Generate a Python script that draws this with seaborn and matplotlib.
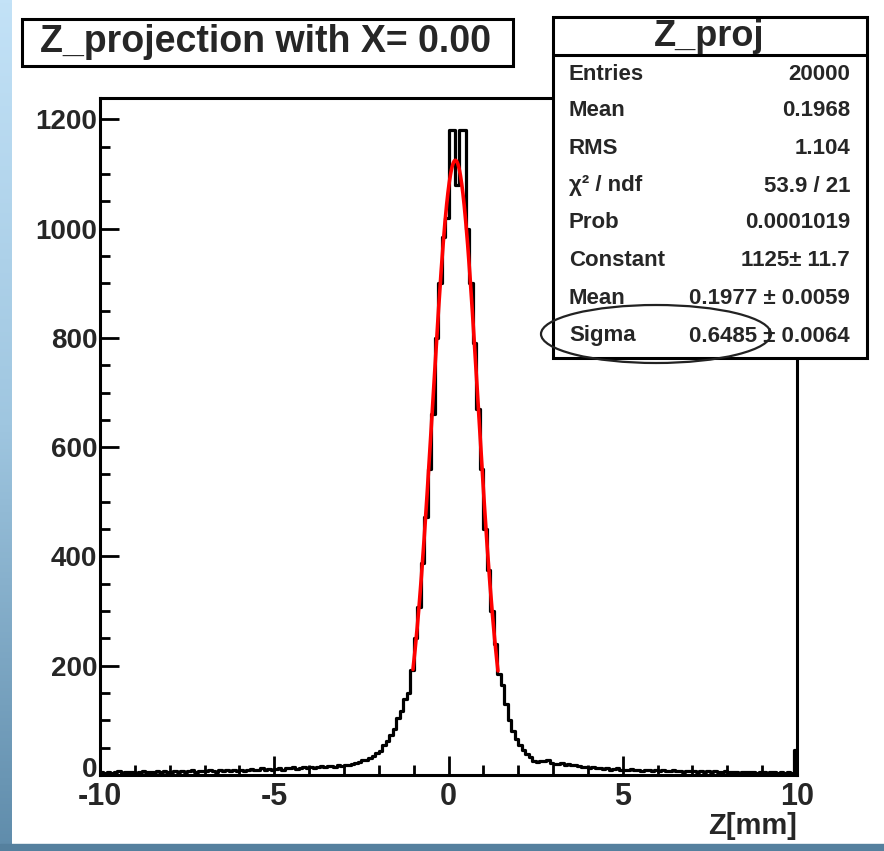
import numpy as np
import pandas as pd
import matplotlib
matplotlib.use("Agg")
import matplotlib.pyplot as plt
import matplotlib.transforms as mtransforms
from matplotlib.patches import Rectangle, Ellipse
import seaborn as sns

# ---- data -------------------------------------------------------------
# 200 bins of 0.1 mm from -10 to 10 (counts per bin)
bin_edges = [round(-10.0 + 0.1 * i, 2) for i in range(201)]

counts_left_tail = [
    5, 3, 6, 4, 5, 7, 4, 6, 5, 6,          # -10 .. -9
    4, 6, 7, 5, 6, 5, 7, 6, 8, 5,          # -9 .. -8
    6, 7, 5, 8, 6, 7, 9, 6, 7, 8,          # -8 .. -7
    7, 9, 8, 6, 9, 8, 10, 7, 9, 8,         # -7 .. -6
    9, 8, 10, 11, 9, 10, 12, 10, 11, 10,   # -6 .. -5
    11, 12, 10, 13, 12, 14, 11, 13, 14, 12,  # -5 .. -4
    14, 13, 15, 16, 14, 17, 16, 15, 18, 17,  # -4 .. -3
    18, 19, 21, 22, 24, 27, 28, 31, 35, 40,  # -3 .. -2
    44, 55, 62, 74, 84, 104, 118, 140, 150, 192,  # -2 .. -1
]
counts_core = [
    250, 307, 388, 472, 560, 660, 800, 900, 985, 1020,   # -1 .. 0
    1180, 1180, 1080, 1180, 1180, 1000, 900, 790, 670, 560,  # 0 .. 1
    450, 375, 300, 240,                                   # 1 .. 1.4
]
counts_right_tail = [
    185, 165, 130, 100, 80, 66,              # 1.4 .. 2.0
    55, 46, 38, 33, 26, 24, 26, 25, 27, 22,  # 2 .. 3
    21, 20, 22, 19, 20, 18, 19, 16, 15, 14,  # 3 .. 4
    13, 14, 12, 13, 11, 12, 10, 11, 12, 10,  # 4 .. 5
    10, 9, 11, 9, 10, 8, 9, 10, 8, 9,        # 5 .. 6
    8, 9, 7, 8, 9, 7, 8, 6, 8, 7,            # 6 .. 7
    7, 6, 8, 6, 7, 5, 7, 6, 5, 7,            # 7 .. 8
    6, 5, 6, 4, 6, 5, 5, 6, 4, 5,            # 8 .. 9
    5, 4, 6, 5, 4, 5, 3, 5, 4, 45,           # 9 .. 10
]
counts = counts_left_tail + counts_core + counts_right_tail

# Gaussian fit result and its range
fit_constant = 1125.0
fit_mean = 0.1977
fit_sigma = 0.6485
fit_range = (-1.02, 1.42)

title_text = "Z_projection with X= 0.00"
stats_title = "Z_proj"
stats_labels = ["Entries", "Mean", "RMS", "\u03c7\u00b2 / ndf", "Prob",
                "Constant", "Mean", "Sigma"]
stats_values = ["20000", "0.1968", "1.104", "53.9 / 21", "0.0001019",
                "1125\u00b1 11.7", "0.1977 \u00b1 0.0059", "0.6485 \u00b1 0.0064"]

x_ticks = [-10, -5, 0, 5, 10]
y_ticks = [0, 200, 400, 600, 800, 1000, 1200]
x_label = "Z[mm]"

# ---- figure -----------------------------------------------------------
W, H = 884, 851
sns.set_theme(style="white")
plt.rcParams["font.family"] = ["Liberation Sans", "DejaVu Sans"]

fig = plt.figure(figsize=(W / 100, H / 100), dpi=100)
fig.patch.set_facecolor("white")


def fx(x):
    return x / W


def fy(y):
    return 1 - y / H


# window decoration: blue gradient on the left edge and a strip at the bottom
deco = fig.add_axes([0, 0, fx(12), 1])
grad = np.linspace(0, 1, 256).reshape(-1, 1)
cmap = matplotlib.colors.LinearSegmentedColormap.from_list(
    "edge", ["#c3e2f7", "#9fc6e0", "#5f8cab"])
deco.imshow(grad, aspect="auto", cmap=cmap, extent=[0, 1, 0, 1], origin="upper")
deco.set_axis_off()
fig.patches.append(Rectangle((0, 0), 1, (H - 844) / H,
                             transform=fig.transFigure, color="#55809e", zorder=0))

# main histogram pad
ax = fig.add_axes([fx(100), fy(775), fx(797) - fx(100), fy(98) - fy(775)])
centers = [(a + b) / 2 for a, b in zip(bin_edges[:-1], bin_edges[1:])]
df = pd.DataFrame({"z": centers, "n": counts})
sns.histplot(data=df, x="z", weights="n", bins=bin_edges, element="step",
             fill=False, color="black", linewidth=2.3, ax=ax)

xf = np.linspace(fit_range[0], fit_range[1], 200)
yf = fit_constant * np.exp(-0.5 * ((xf - fit_mean) / fit_sigma) ** 2)
sns.lineplot(x=xf, y=yf, color="red", linewidth=2.6, ax=ax)

ax.set_xlim(-10, 10)
ax.set_ylim(0, 1239)
ax.set_xticks(x_ticks)
ax.set_xticks(np.arange(-10, 11, 1), minor=True)
ax.set_yticks(y_ticks)
ax.set_yticks(np.arange(0, 1239, 50), minor=True)
ax.set_xticklabels([str(t) for t in x_ticks], fontsize=22, fontweight="bold")
ax.set_yticklabels([str(t) for t in y_ticks], fontsize=20, fontweight="bold")
ax.tick_params(axis="both", which="major", direction="in", length=14, width=2,
               color="black", bottom=True, left=True, top=False, right=False)
ax.tick_params(axis="both", which="minor", direction="in", length=7, width=2,
               color="black", bottom=True, left=True, top=False, right=False)
ax.tick_params(axis="x", pad=5)
ax.tick_params(axis="y", pad=2)
ax.set_xlabel("")
ax.set_ylabel("")
for s in ax.spines.values():
    s.set_color("black")
    s.set_linewidth(2.2)
ax.set_facecolor("white")

# lift the "0" count label a little so it sits just above the "-10"
zero_lab = ax.get_yticklabels()[0]
zero_lab.set_transform(zero_lab.get_transform() +
                       mtransforms.ScaledTranslation(0, 6 / 72, fig.dpi_scale_trans))

fig.text(fx(797), fy(826), x_label, ha="right", va="center", fontsize=21,
         fontweight="bold")

# title box
fig.patches.append(Rectangle((fx(22), fy(66)), fx(513) - fx(22), fy(19) - fy(66),
                             transform=fig.transFigure, facecolor="white",
                             edgecolor="black", linewidth=2.2, zorder=5))
fig.text(fx(266), fy(42), title_text, ha="center", va="center", fontsize=27,
         fontweight="bold", zorder=6)

# statistics box
fig.patches.append(Rectangle((fx(553), fy(358)), fx(867) - fx(553), fy(17) - fy(358),
                             transform=fig.transFigure, facecolor="white",
                             edgecolor="black", linewidth=2.2, zorder=5))
fig.lines.append(matplotlib.lines.Line2D([fx(553), fx(867)], [fy(55), fy(55)],
                                         transform=fig.transFigure, color="black",
                                         linewidth=2.2, zorder=6))
fig.text(fx(709), fy(37), stats_title, ha="center", va="center", fontsize=26,
         fontweight="bold", zorder=6)
row_y = [74, 111, 149, 186, 223, 261, 299, 336]
for lab, val, yy in zip(stats_labels, stats_values, row_y):
    fig.text(fx(569), fy(yy), lab, ha="left", va="center", fontsize=16,
             fontweight="bold", zorder=6)
    fig.text(fx(850), fy(yy), val, ha="right", va="center", fontsize=16,
             fontweight="bold", zorder=6)

# hand-drawn ellipse around the sigma row
fig.patches.append(Ellipse((fx(656), fy(334)), fx(230), 58 / H,
                           transform=fig.transFigure, fill=False,
                           edgecolor="#222222", linewidth=1.6, zorder=7))

fig.savefig("out.png", dpi=100)
